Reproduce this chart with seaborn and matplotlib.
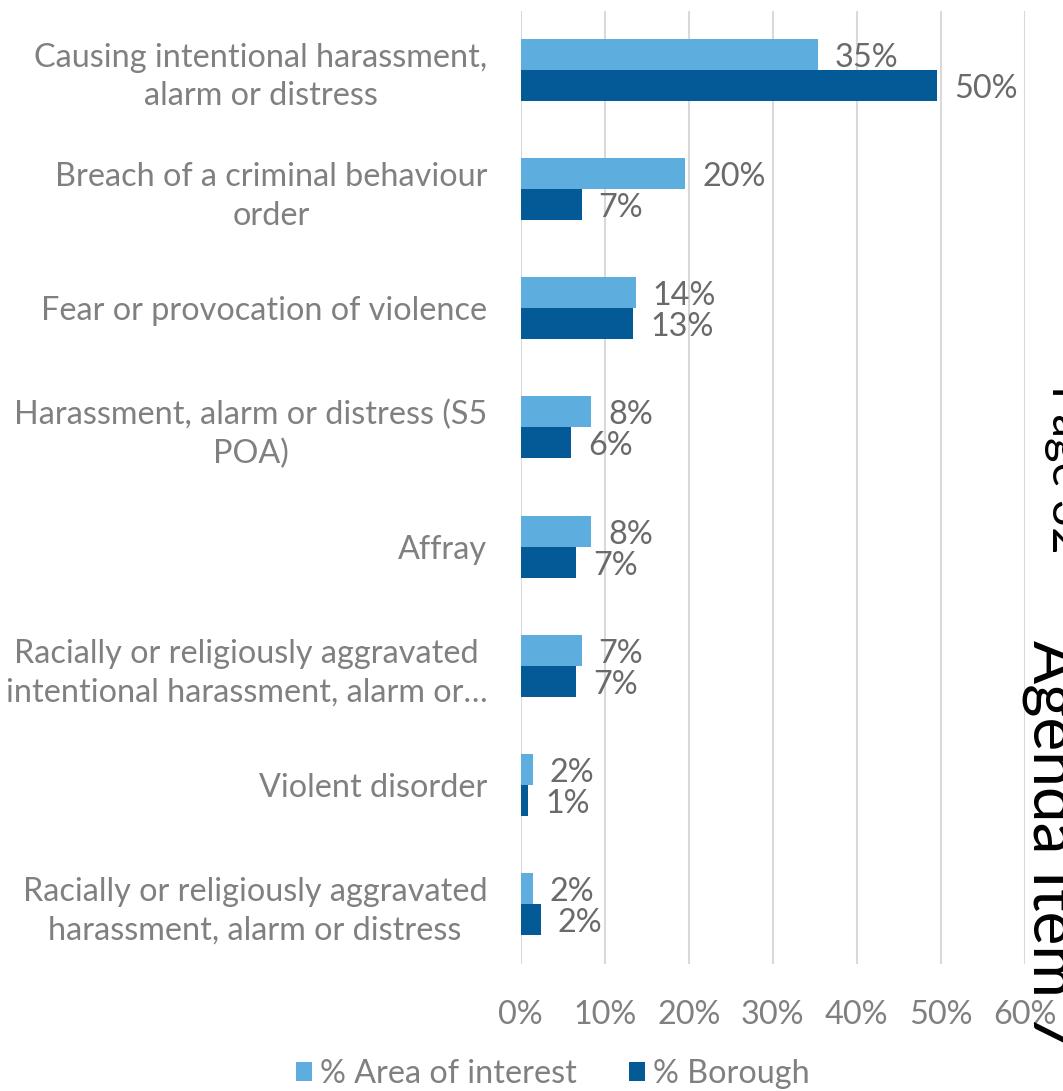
import matplotlib
matplotlib.use("Agg")
import matplotlib.pyplot as plt
import seaborn as sns
import pandas as pd
from matplotlib.ticker import FuncFormatter

categories = [
    "Causing intentional harassment,\nalarm or distress",
    "Breach of a criminal behaviour\norder",
    "Fear or provocation of violence",
    "Harassment, alarm or distress (S5\nPOA)",
    "Affray",
    "Racially or religiously aggravated\nintentional harassment, alarm or\u2026",
    "Violent disorder",
    "Racially or religiously aggravated\nharassment, alarm or distress",
]
series_names = ["% Area of interest", "% Borough"]
area_of_interest = [35.4, 19.6, 13.7, 8.4, 8.4, 7.3, 1.5, 1.5]
borough = [49.6, 7.3, 13.4, 6.0, 6.6, 6.6, 0.9, 2.4]
x_ticks = [0, 10, 20, 30, 40, 50, 60]

colors = ["#5DADDF", "#035A96"]
label_grey = "#808080"
value_grey = "#6A6A6A"
FS = 23.3

sns.set_theme(style="white")
plt.rcParams["font.family"] = ["Lato", "DejaVu Sans"]

df = pd.DataFrame({
    "category": categories * 2,
    "value": area_of_interest + borough,
    "series": [series_names[0]] * len(categories) + [series_names[1]] * len(categories),
})

W, H = 1063, 1091
fig = plt.figure(figsize=(W / 100, H / 100), dpi=100)
ax = fig.add_axes([520.7 / W, 1 - 963.5 / H, (1024.7 - 520.7) / W, (963.5 - 10.5) / H])

sns.barplot(
    data=df, x="value", y="category", hue="series", order=categories,
    hue_order=series_names, palette=colors, orient="h", width=0.52,
    linewidth=0, saturation=1, legend=True, ax=ax,
)

ax.set_xlim(0, 60)
ax.set_xticks(x_ticks)
ax.xaxis.set_major_formatter(FuncFormatter(lambda v, _: f"{v:.0f}%"))
ax.grid(axis="x", color="#D9D9D9", linewidth=1.5)
ax.grid(axis="y", visible=False)
ax.set_axisbelow(True)
for s in ax.spines.values():
    s.set_visible(False)
ax.set_xlabel("")
ax.set_ylabel("")
ax.tick_params(axis="x", length=0, pad=26, labelsize=FS, labelcolor=label_grey)
ax.tick_params(axis="y", length=0, pad=24, labelsize=FS, labelcolor=label_grey)
for t in ax.get_yticklabels():
    t.set_multialignment("center")
    t.set_linespacing(1.35)

for cont in ax.containers:
    anns = ax.bar_label(cont, labels=[f"{round(v)}%" for v in cont.datavalues],
                        padding=12, fontsize=FS, color=value_grey)
    for a in anns:
        a.xyann = (12, -2.5)

handles, labels = ax.get_legend_handles_labels()
ax.get_legend().remove()
fig.legend(handles, labels, loc="center", bbox_to_anchor=(553 / W, 1 - 1074 / H),
           ncol=2, frameon=False, fontsize=FS, labelcolor=label_grey,
           handlelength=0.5, handleheight=0.5, handletextpad=0.25,
           columnspacing=1.6, borderaxespad=0)

fig.text(1052 / W, 1 - 385 / H, "Page 32", rotation=-90, rotation_mode="anchor",
         ha="left", va="baseline", fontsize=34, color="black")
fig.text(1033 / W, 1 - 640 / H, "Agenda Item 7", rotation=-90, rotation_mode="anchor",
         ha="left", va="baseline", fontsize=46, color="black")

fig.savefig("out.png", dpi=100, facecolor="white")
